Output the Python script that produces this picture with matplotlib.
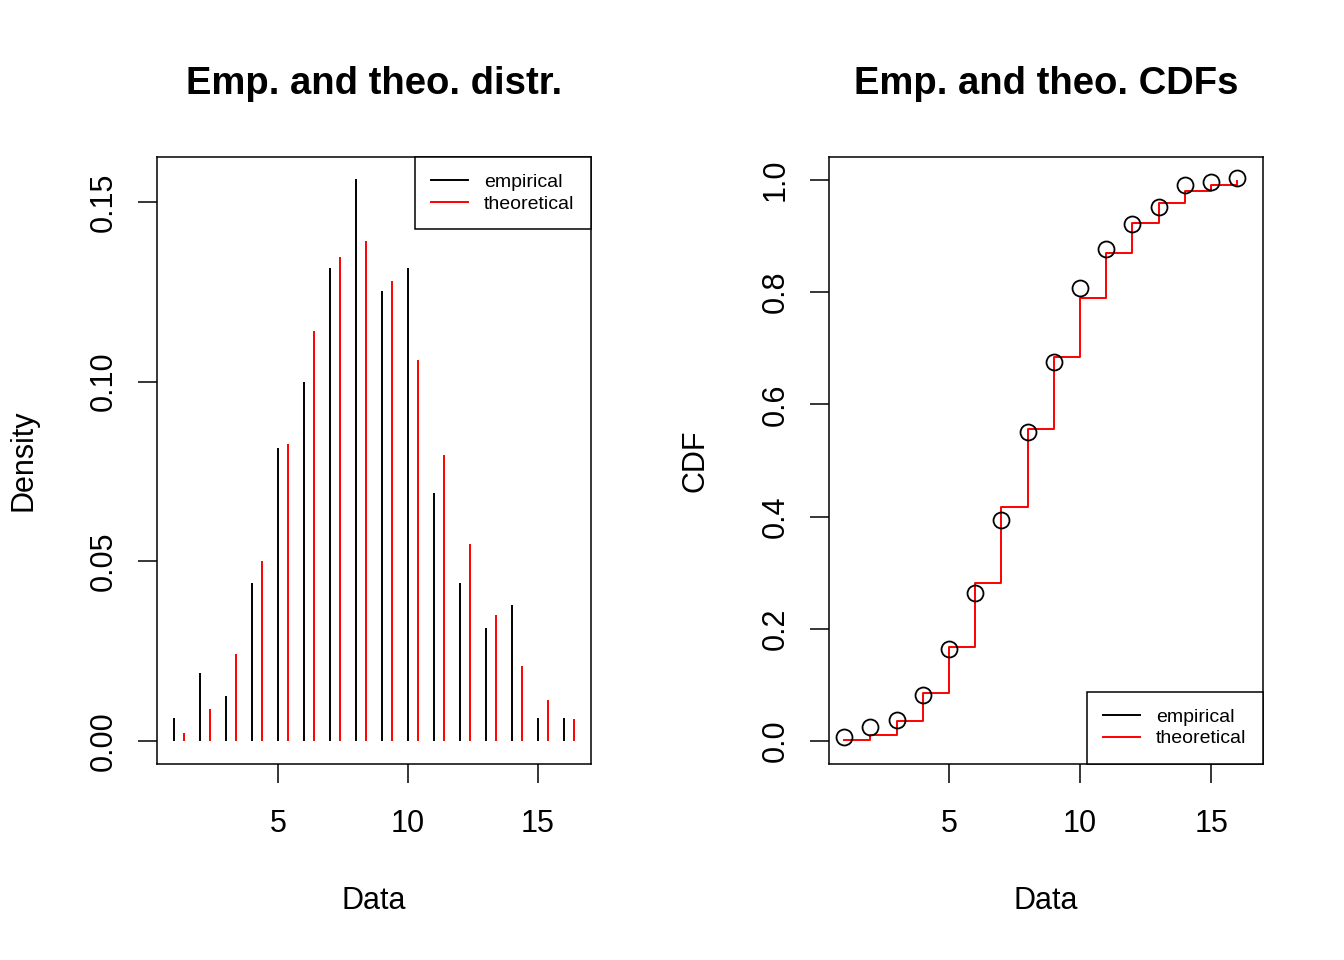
import numpy as np
import matplotlib
matplotlib.use("Agg")
import matplotlib.pyplot as plt

plt.rcParams['font.family'] = ['Liberation Sans', 'DejaVu Sans']

x_vals = np.arange(1, 17)
emp_dens = [0.0063, 0.0189, 0.0125, 0.0440, 0.0815, 0.1000, 0.1316, 0.1563,
            0.1253, 0.1316, 0.0690, 0.0440, 0.0314, 0.0378, 0.0063, 0.0063]
theo_dens = [0.0022, 0.0089, 0.0242, 0.0500, 0.0827, 0.1140, 0.1347, 0.1390,
             0.1280, 0.1060, 0.0796, 0.0548, 0.0350, 0.0209, 0.0114, 0.0061]
theo_shift = 0.4

emp_cdf = np.cumsum(emp_dens)
theo_cdf = np.cumsum(theo_dens)

fig = plt.figure(figsize=(13.44, 9.6), dpi=100)
W, H = 1344, 960

def make_ax(left, right, top, bottom):
    return fig.add_axes([left / W, 1 - bottom / H, (right - left) / W, (bottom - top) / H])

ax1 = make_ax(157, 591, 157, 764)
ax2 = make_ax(829, 1263, 157, 764)

tick_fs = 22
lab_fs = 22
title_fs = 27.5
leg_fs = 14

for ax in (ax1, ax2):
    for s in ax.spines.values():
        s.set_linewidth(1.1)
        s.set_color('black')
    ax.tick_params(axis='both', direction='out', length=13.5, width=1.1,
                   labelsize=tick_fs)
    ax.tick_params(axis='x', pad=19)
    ax.tick_params(axis='y', pad=14)

# left panel: empirical and theoretical densities
ax1.vlines(x_vals, 0, emp_dens, colors='black', lw=1.4)
ax1.vlines(x_vals + theo_shift, 0, theo_dens, colors='red', lw=1.4)
ax1.set_xlim(0.35, 17.04)
ax1.set_ylim(-0.0064, 0.1625)
ax1.set_xticks([5, 10, 15])
ax1.set_yticks([0.0, 0.05, 0.10, 0.15])
ax1.set_yticklabels(['0.00', '0.05', '0.10', '0.15'], rotation=90, va='center')
ax1.set_xlabel('Data', fontsize=lab_fs, labelpad=34)
ax1.set_ylabel('Density', fontsize=lab_fs, labelpad=36)
ax1.set_title('Emp. and theo. distr.', fontsize=title_fs, fontweight='bold', pad=45)

# right panel: CDFs
ax2.step(x_vals, theo_cdf, where='post', color='red', lw=1.4)
ax2.plot(x_vals, emp_cdf, 'o', mfc='none', mec='black', ms=11.5, mew=1.3)
ax2.set_xlim(0.42, 16.98)
ax2.set_ylim(-0.041, 1.041)
ax2.set_xticks([5, 10, 15])
ax2.set_yticks([0.0, 0.2, 0.4, 0.6, 0.8, 1.0])
ax2.set_yticklabels(['0.0', '0.2', '0.4', '0.6', '0.8', '1.0'], rotation=90, va='center')
ax2.set_xlabel('Data', fontsize=lab_fs, labelpad=34)
ax2.set_ylabel('CDF', fontsize=lab_fs, labelpad=36)
ax2.set_title('Emp. and theo. CDFs', fontsize=title_fs, fontweight='bold', pad=45)

handles = [plt.Line2D([], [], color='black', lw=1.4),
           plt.Line2D([], [], color='red', lw=1.4)]
for ax, loc in ((ax1, 'upper right'), (ax2, 'lower right')):
    leg = ax.legend(handles, ['empirical', 'theoretical'], loc=loc, fontsize=leg_fs,
                    frameon=True, fancybox=False, framealpha=1, edgecolor='black',
                    borderaxespad=0, handlelength=1.9, handletextpad=0.82,
                    labelspacing=0.2, borderpad=0.85)
    leg.get_frame().set_linewidth(1.1)

fig.savefig('out.png', dpi=100)
